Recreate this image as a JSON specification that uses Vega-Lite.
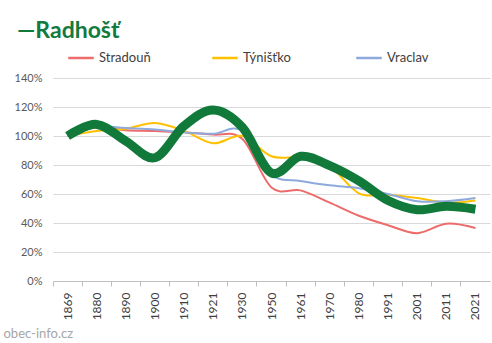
{
  "$schema": "https://vega.github.io/schema/vega-lite/v6.json",
  "width": 437,
  "height": 203,
  "autosize": {"type": "none"},
  "padding": {"left": 53, "top": 78, "right": 2, "bottom": 62},
  "background": "white",
  "config": {
    "font": "Lato",
    "view": {"stroke": null}
  },
  "title": {
    "text": "—Radhošť",
    "anchor": "start",
    "frame": "group",
    "dx": -36,
    "dy": 8,
    "offset": 9,
    "font": "Lato",
    "fontSize": 23,
    "fontWeight": "bold",
    "color": "#127A3D"
  },
  "data": {
    "values": [
      {"year": "1869", "series": "Radhošť", "value": 1.00},
      {"year": "1880", "series": "Radhošť", "value": 1.08},
      {"year": "1890", "series": "Radhošť", "value": 0.965},
      {"year": "1900", "series": "Radhošť", "value": 0.85},
      {"year": "1910", "series": "Radhošť", "value": 1.07},
      {"year": "1921", "series": "Radhošť", "value": 1.18},
      {"year": "1930", "series": "Radhošť", "value": 1.06},
      {"year": "1950", "series": "Radhošť", "value": 0.745},
      {"year": "1961", "series": "Radhošť", "value": 0.86},
      {"year": "1970", "series": "Radhošť", "value": 0.795},
      {"year": "1980", "series": "Radhošť", "value": 0.69},
      {"year": "1991", "series": "Radhošť", "value": 0.555},
      {"year": "2001", "series": "Radhošť", "value": 0.492},
      {"year": "2011", "series": "Radhošť", "value": 0.515},
      {"year": "2021", "series": "Radhošť", "value": 0.495},

      {"year": "1869", "series": "Stradouň", "value": 1.00},
      {"year": "1880", "series": "Stradouň", "value": 1.06},
      {"year": "1890", "series": "Stradouň", "value": 1.04},
      {"year": "1900", "series": "Stradouň", "value": 1.035},
      {"year": "1910", "series": "Stradouň", "value": 1.025},
      {"year": "1921", "series": "Stradouň", "value": 1.01},
      {"year": "1930", "series": "Stradouň", "value": 0.98},
      {"year": "1950", "series": "Stradouň", "value": 0.645},
      {"year": "1961", "series": "Stradouň", "value": 0.625},
      {"year": "1970", "series": "Stradouň", "value": 0.54},
      {"year": "1980", "series": "Stradouň", "value": 0.45},
      {"year": "1991", "series": "Stradouň", "value": 0.385},
      {"year": "2001", "series": "Stradouň", "value": 0.33},
      {"year": "2011", "series": "Stradouň", "value": 0.395},
      {"year": "2021", "series": "Stradouň", "value": 0.365},

      {"year": "1869", "series": "Týnišťko", "value": 1.00},
      {"year": "1880", "series": "Týnišťko", "value": 1.035},
      {"year": "1890", "series": "Týnišťko", "value": 1.05},
      {"year": "1900", "series": "Týnišťko", "value": 1.09},
      {"year": "1910", "series": "Týnišťko", "value": 1.035},
      {"year": "1921", "series": "Týnišťko", "value": 0.95},
      {"year": "1930", "series": "Týnišťko", "value": 1.00},
      {"year": "1950", "series": "Týnišťko", "value": 0.86},
      {"year": "1961", "series": "Týnišťko", "value": 0.85},
      {"year": "1970", "series": "Týnišťko", "value": 0.79},
      {"year": "1980", "series": "Týnišťko", "value": 0.605},
      {"year": "1991", "series": "Týnišťko", "value": 0.595},
      {"year": "2001", "series": "Týnišťko", "value": 0.572},
      {"year": "2011", "series": "Týnišťko", "value": 0.54},
      {"year": "2021", "series": "Týnišťko", "value": 0.555},

      {"year": "1869", "series": "Vraclav", "value": 1.00},
      {"year": "1880", "series": "Vraclav", "value": 1.065},
      {"year": "1890", "series": "Vraclav", "value": 1.055},
      {"year": "1900", "series": "Vraclav", "value": 1.045},
      {"year": "1910", "series": "Vraclav", "value": 1.025},
      {"year": "1921", "series": "Vraclav", "value": 1.015},
      {"year": "1930", "series": "Vraclav", "value": 1.035},
      {"year": "1950", "series": "Vraclav", "value": 0.735},
      {"year": "1961", "series": "Vraclav", "value": 0.69},
      {"year": "1970", "series": "Vraclav", "value": 0.66},
      {"year": "1980", "series": "Vraclav", "value": 0.64},
      {"year": "1991", "series": "Vraclav", "value": 0.60},
      {"year": "2001", "series": "Vraclav", "value": 0.55},
      {"year": "2011", "series": "Vraclav", "value": 0.55},
      {"year": "2021", "series": "Vraclav", "value": 0.572}
    ]
  },
  "layer": [
    {
      "transform": [{"filter": "datum.series !== 'Radhošť'"}],
      "mark": {"type": "line", "interpolate": "cardinal", "strokeWidth": 2},
      "encoding": {
        "x": {
          "field": "year",
          "type": "ordinal",
          "bandPosition": 0.5,
          "scale": {"type": "band", "paddingInner": 0, "paddingOuter": 0},
          "axis": {
            "orient": "bottom",
            "title": null,
            "labelAngle": -90,
            "labelAlign": "right",
            "labelBaseline": "middle",
            "labelFontSize": 12,
            "labelColor": "#404040",
            "labelPadding": 11,
            "ticks": false,
            "domain": true,
            "domainColor": "#BFBFBF",
            "grid": false
          }
        },
        "y": {
          "field": "value",
          "type": "quantitative",
          "scale": {"domain": [0, 1.4]},
          "axis": {
            "title": null,
            "format": ".0%",
            "values": [0, 0.2, 0.4, 0.6, 0.8, 1.0, 1.2, 1.4],
            "labelOverlap": false,
            "labelFontSize": 11,
            "labelColor": "#595959",
            "labelPadding": 11,
            "ticks": false,
            "domain": false,
            "gridColor": "#D9D9D9",
            "gridWidth": 1
          }
        },
        "color": {
          "field": "series",
          "type": "nominal",
          "scale": {
            "domain": ["Stradouň", "Týnišťko", "Vraclav"],
            "range": ["#EE6B6B", "#FFC000", "#8EA9DB"]
          },
          "legend": {
            "title": null,
            "orient": "none",
            "legendX": 14,
            "legendY": -34,
            "direction": "horizontal",
            "columns": 3,
            "gridAlign": "all",
            "columnPadding": 56,
            "symbolType": "stroke",
            "symbolSize": 650,
            "symbolStrokeWidth": 2.5,
            "labelFontSize": 13,
            "labelColor": "#404040",
            "labelOffset": 4
          }
        }
      }
    },
    {
      "transform": [{"filter": "datum.series === 'Radhošť'"}],
      "mark": {"type": "line", "interpolate": "cardinal", "strokeWidth": 9, "color": "#117A3B"},
      "encoding": {
        "x": {
          "field": "year",
          "type": "ordinal",
          "bandPosition": 0.5,
          "scale": {"type": "band", "paddingInner": 0, "paddingOuter": 0},
          "axis": {
            "orient": "bottom",
            "bandPosition": 0,
            "labels": false,
            "ticks": true,
            "tickSize": 5,
            "tickColor": "#BFBFBF",
            "domain": false,
            "grid": false,
            "title": "obec-info.cz",
            "titleAngle": 0,
            "titleAlign": "left",
            "titleBaseline": "alphabetic",
            "titleX": -50,
            "titleY": 56,
            "titleFontSize": 13,
            "titleFontWeight": "normal",
            "titleColor": "#A6A6A6"
          }
        },
        "y": {
          "field": "value",
          "type": "quantitative",
          "scale": {"domain": [0, 1.4]},
          "axis": {
            "title": null,
            "format": ".0%",
            "values": [0, 0.2, 0.4, 0.6, 0.8, 1.0, 1.2, 1.4],
            "labelOverlap": false,
            "labelFontSize": 11,
            "labelColor": "#595959",
            "labelPadding": 11,
            "ticks": false,
            "domain": false,
            "gridColor": "#D9D9D9",
            "gridWidth": 1
          }
        }
      }
    }
  ],
  "resolve": {"axis": {"x": "independent"}}
}
